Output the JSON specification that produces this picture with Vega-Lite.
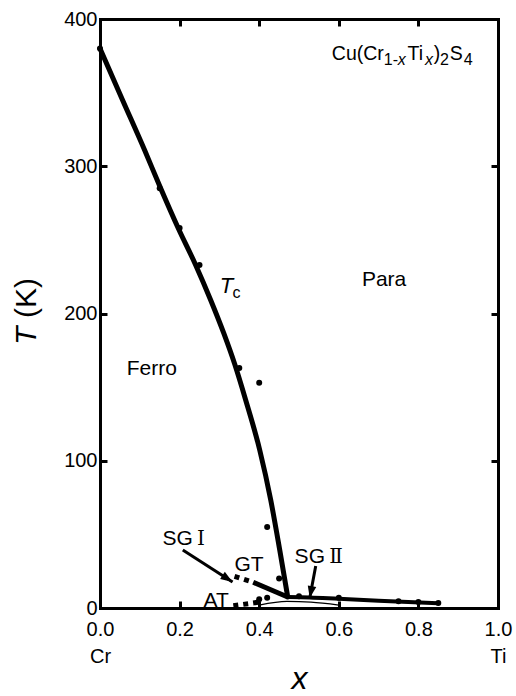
{
  "$schema": "https://vega.github.io/schema/vega-lite/v6.json",
  "width": 398,
  "height": 589,
  "autosize": {"type": "none"},
  "padding": {"left": 100, "top": 19, "right": 18, "bottom": 88},
  "background": "white",
  "config": {
    "view": {"stroke": null},
    "font": "Liberation Sans",
    "axis": {
      "domainColor": "black",
      "domainWidth": 3,
      "domainCap": "square",
      "tickColor": "black",
      "tickWidth": 3,
      "tickSize": -7,
      "labelColor": "black",
      "labelFont": "Liberation Sans",
      "labelFontSize": 20,
      "titleColor": "black",
      "titleFont": "Liberation Sans",
      "grid": false,
      "labelFlush": false,
      "labelOverlap": false
    }
  },
  "datasets": {
    "tc": [
      {"x": 0.0, "T": 380}, {"x": 0.0566, "T": 345}, {"x": 0.112, "T": 311},
      {"x": 0.15, "T": 286.6}, {"x": 0.1975, "T": 257.4}, {"x": 0.2403, "T": 233},
      {"x": 0.278, "T": 209.2}, {"x": 0.3107, "T": 186.8}, {"x": 0.3384, "T": 165.7},
      {"x": 0.366, "T": 141.3}, {"x": 0.4013, "T": 107.3}, {"x": 0.429, "T": 73.3},
      {"x": 0.4516, "T": 39.4}, {"x": 0.4717, "T": 7.5}
    ],
    "sg2": [
      {"x": 0.4717, "T": 7.5}, {"x": 0.527, "T": 7.2}, {"x": 0.6, "T": 6.2},
      {"x": 0.7, "T": 4.9}, {"x": 0.85, "T": 3.2}
    ],
    "sg2_lower": [
      {"x": 0.4, "T": 2}, {"x": 0.47, "T": 4.5}, {"x": 0.53, "T": 4}, {"x": 0.6, "T": 2}
    ],
    "gt_solid": [{"x": 0.385, "T": 17.5}, {"x": 0.4717, "T": 7.5}],
    "gt_dotted": [{"x": 0.338, "T": 21.5}, {"x": 0.385, "T": 17.5}],
    "at_dotted": [{"x": 0.335, "T": 1.5}, {"x": 0.4, "T": 4}],
    "points": [
      {"x": 0.0, "T": 380}, {"x": 0.15, "T": 285}, {"x": 0.2, "T": 258},
      {"x": 0.25, "T": 233}, {"x": 0.35, "T": 163}, {"x": 0.4, "T": 153},
      {"x": 0.42, "T": 55}, {"x": 0.45, "T": 20}, {"x": 0.4, "T": 6},
      {"x": 0.42, "T": 7}, {"x": 0.5, "T": 8}, {"x": 0.6, "T": 7},
      {"x": 0.75, "T": 4.5}, {"x": 0.8, "T": 4}, {"x": 0.85, "T": 3.4}
    ],
    "arrows": [
      {"arrow": "SG I", "x": 0.208, "T": 39.4},
      {"arrow": "SG I", "x": 0.333, "T": 17.7},
      {"arrow": "SG II", "x": 0.542, "T": 28.5},
      {"arrow": "SG II", "x": 0.527, "T": 6.8}
    ],
    "labels": [
      {"text": "Para", "x": 0.658, "T": 218.7},
      {"text": "Ferro", "x": 0.067, "T": 158.2},
      {"text": "SG", "x": 0.157, "T": 42.8},
      {"text": "GT", "x": 0.338, "T": 25.1},
      {"text": "AT", "x": 0.26, "T": 0.7},
      {"text": "SG", "x": 0.489, "T": 30.6}
    ],
    "numerals": [
      {"text": "Ⅰ", "x": 0.2435, "T": 42.8},
      {"text": "Ⅱ", "x": 0.576, "T": 30.6}
    ],
    "formula": [
      {"text": "Cu(Cr", "part": "main", "x": 0.5824, "T": 372.2},
      {"text": "1-", "part": "sub", "x": 0.7132, "T": 368.8},
      {"text": "x", "part": "subitalic", "x": 0.7484, "T": 368.8},
      {"text": "Ti", "part": "main", "x": 0.7725, "T": 372.2},
      {"text": "x", "part": "subitalic", "x": 0.8165, "T": 368.8},
      {"text": ")", "part": "main", "x": 0.8385, "T": 372.2},
      {"text": "2", "part": "sub", "x": 0.8545, "T": 368.8},
      {"text": "S", "part": "main", "x": 0.8785, "T": 372.2},
      {"text": "4", "part": "sub", "x": 0.914, "T": 368.8}
    ]
  },
  "encoding": {
    "x": {"field": "x", "type": "quantitative", "scale": {"domain": [0, 1], "nice": false, "zero": false}, "axis": null},
    "y": {"field": "T", "type": "quantitative", "scale": {"domain": [0, 400], "nice": false, "zero": false}, "axis": null}
  },
  "layer": [
    {
      "data": {"name": "tc"},
      "mark": {"type": "line", "color": "black", "strokeWidth": 5, "interpolate": "monotone", "strokeCap": "round"},
      "encoding": {
        "x": {
          "field": "x", "type": "quantitative",
          "scale": {"domain": [0, 1], "nice": false, "zero": false},
          "axis": {
            "orient": "bottom",
            "values": [0, 0.2, 0.4, 0.6, 0.8, 1.0],
            "labelExpr": "datum.value == 0 ? ['0.0', 'Cr'] : datum.value == 1 ? ['1.0', 'Ti'] : format(datum.value, '.1f')",
            "labelPadding": 18,
            "labelLineHeight": 27,
            "title": "x",
            "titleFontStyle": "italic",
            "titleFontWeight": "normal",
            "titleFontSize": 32,
            "titlePadding": -3
          }
        },
        "y": {
          "field": "T", "type": "quantitative",
          "scale": {"domain": [0, 400], "nice": false, "zero": false},
          "axis": {
            "orient": "left",
            "values": [0, 100, 200, 300, 400],
            "labelPadding": 10,
            "title": null
          }
        }
      }
    },
    {
      "data": {"name": "points"},
      "mark": {"type": "point", "filled": true, "color": "black", "size": 36, "opacity": 1},
      "encoding": {
        "x": {
          "field": "x", "type": "quantitative",
          "scale": {"domain": [0, 1], "nice": false, "zero": false},
          "axis": {"orient": "top", "values": [0.2, 0.4, 0.6, 0.8], "labels": false, "title": null}
        },
        "y": {
          "field": "T", "type": "quantitative",
          "scale": {"domain": [0, 400], "nice": false, "zero": false},
          "axis": {"orient": "right", "values": [100, 200, 300], "labels": false, "title": null}
        }
      }
    },
    {
      "data": {"name": "sg2"},
      "mark": {"type": "line", "color": "black", "strokeWidth": 4, "interpolate": "monotone"},
      "encoding": {}
    },
    {
      "data": {"name": "sg2_lower"},
      "mark": {"type": "line", "color": "black", "strokeWidth": 1.3, "interpolate": "monotone"},
      "encoding": {}
    },
    {
      "data": {"name": "gt_solid"},
      "mark": {"type": "line", "color": "black", "strokeWidth": 5},
      "encoding": {}
    },
    {
      "data": {"name": "gt_dotted"},
      "mark": {"type": "line", "color": "black", "strokeWidth": 5, "strokeDash": [5, 5]},
      "encoding": {}
    },
    {
      "data": {"name": "at_dotted"},
      "mark": {"type": "line", "color": "black", "strokeWidth": 5, "strokeDash": [5, 5]},
      "encoding": {}
    },
    {
      "data": {"name": "arrows"},
      "mark": {"type": "line", "color": "black", "strokeWidth": 3},
      "encoding": {"detail": {"field": "arrow"}}
    },
    {
      "data": {"name": "arrows"},
      "transform": [{"filter": "datum.arrow == 'SG I' && datum.T < 20"}],
      "mark": {"type": "point", "filled": true, "color": "black", "opacity": 1, "size": 576, "angle": 33, "shape": "M0,0L-1,-0.36L-1,0.36Z"}
    },
    {
      "data": {"name": "arrows"},
      "transform": [{"filter": "datum.arrow == 'SG II' && datum.T < 20"}],
      "mark": {"type": "point", "filled": true, "color": "black", "opacity": 1, "size": 576, "angle": 101, "shape": "M0,0L-1,-0.36L-1,0.36Z"}
    },
    {
      "data": {"name": "labels"},
      "mark": {"type": "text", "align": "left", "baseline": "alphabetic", "fontSize": 21, "color": "black"},
      "encoding": {"text": {"field": "text"}}
    },
    {
      "data": {"name": "numerals"},
      "mark": {"type": "text", "align": "left", "baseline": "alphabetic", "fontSize": 20, "font": "DejaVu Serif, Noto Sans CJK JP", "color": "black"},
      "encoding": {"text": {"field": "text"}}
    },
    {
      "data": {"values": [{"text": "T", "x": 0.301, "T": 213.9}]},
      "mark": {"type": "text", "align": "left", "baseline": "alphabetic", "fontSize": 22, "fontStyle": "italic", "color": "black"},
      "encoding": {"text": {"field": "text"}}
    },
    {
      "data": {"values": [{"text": "c", "x": 0.333, "T": 210.5}]},
      "mark": {"type": "text", "align": "left", "baseline": "alphabetic", "fontSize": 16, "color": "black"},
      "encoding": {"text": {"field": "text"}}
    },
    {
      "data": {"name": "formula"},
      "transform": [{"filter": "datum.part == 'main'"}],
      "mark": {"type": "text", "align": "left", "baseline": "alphabetic", "fontSize": 19.5, "color": "black"},
      "encoding": {"text": {"field": "text"}}
    },
    {
      "data": {"name": "formula"},
      "transform": [{"filter": "datum.part == 'sub'"}],
      "mark": {"type": "text", "align": "left", "baseline": "alphabetic", "fontSize": 16, "color": "black"},
      "encoding": {"text": {"field": "text"}}
    },
    {
      "data": {"name": "formula"},
      "transform": [{"filter": "datum.part == 'subitalic'"}],
      "mark": {"type": "text", "align": "left", "baseline": "alphabetic", "fontSize": 16, "fontStyle": "italic", "color": "black"},
      "encoding": {"text": {"field": "text"}}
    },
    {
      "data": {"values": [{"text": "T", "x": -0.16, "T": 178.6}]},
      "mark": {"type": "text", "align": "left", "baseline": "alphabetic", "angle": 270, "fontSize": 30, "fontStyle": "italic", "color": "black"},
      "encoding": {"text": {"field": "text"}}
    },
    {
      "data": {"values": [{"text": "(K)", "x": -0.16, "T": 197}]},
      "mark": {"type": "text", "align": "left", "baseline": "alphabetic", "angle": 270, "fontSize": 30, "color": "black"},
      "encoding": {"text": {"field": "text"}}
    }
  ],
  "resolve": {"axis": {"x": "independent", "y": "independent"}}
}
